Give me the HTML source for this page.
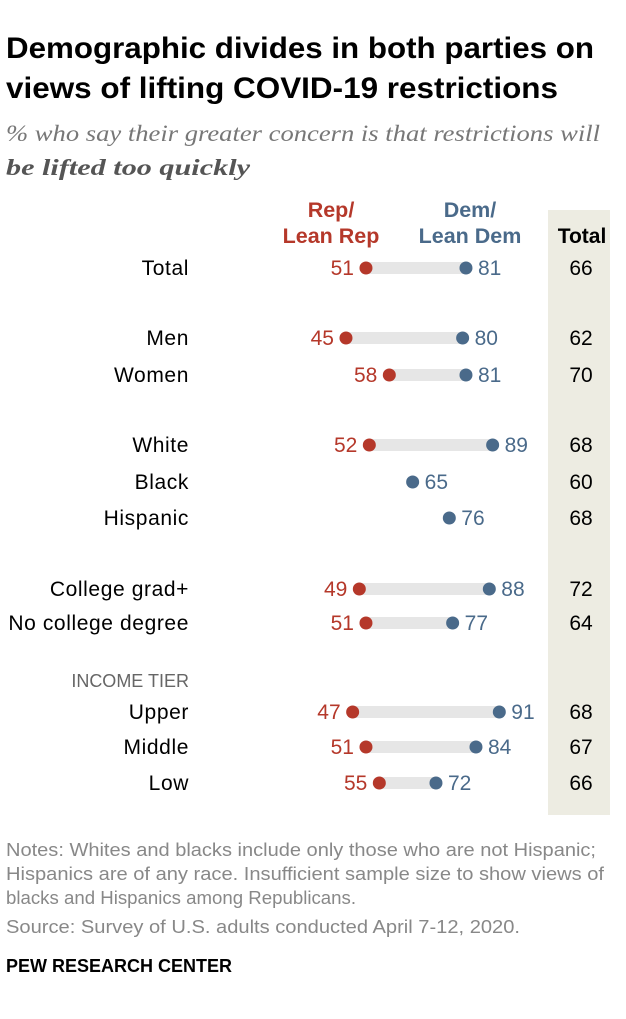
<!DOCTYPE html>
<html><head><meta charset="utf-8"><style>
body{margin:0;width:626px;height:1014px;background:#fff;font-family:"Liberation Sans",sans-serif;overflow:hidden}
svg text{font-family:"Liberation Sans",sans-serif}
</style></head><body>
<svg width="626" height="1014">
<text x="6" y="58" font-size="30" font-weight="bold" fill="#000" textLength="588" lengthAdjust="spacingAndGlyphs">Demographic divides in both parties on</text>
<text x="6" y="98" font-size="30" font-weight="bold" fill="#000" textLength="552" lengthAdjust="spacingAndGlyphs">views of lifting COVID-19 restrictions</text>
<text x="6" y="141" font-size="23" font-style="italic" fill="#777" textLength="594" lengthAdjust="spacingAndGlyphs" style="font-family:'Liberation Serif',serif">% who say their greater concern is that restrictions will</text>
<text x="6" y="175" font-size="23" font-style="italic" font-weight="bold" fill="#555" textLength="244" lengthAdjust="spacingAndGlyphs" style="font-family:'Liberation Serif',serif">be lifted too quickly</text>
<rect x="548" y="210" width="62" height="605" fill="#edece2"/>
<text x="331" y="217" font-size="21.5" font-weight="bold" fill="#b5382a" text-anchor="middle">Rep/</text>
<text x="331" y="243" font-size="21.5" font-weight="bold" fill="#b5382a" text-anchor="middle">Lean Rep</text>
<text x="470" y="217" font-size="21.5" font-weight="bold" fill="#4a6a8a" text-anchor="middle">Dem/</text>
<text x="470" y="243" font-size="21.5" font-weight="bold" fill="#4a6a8a" text-anchor="middle">Lean Dem</text>
<text x="582" y="243" font-size="21" font-weight="bold" fill="#000" text-anchor="middle">Total</text>
<text x="189" y="687" font-size="18" fill="#666" text-anchor="end">INCOME TIER</text>
<g id="rows"></g>
<text x="6" y="856" font-size="18" fill="#888" textLength="590" lengthAdjust="spacingAndGlyphs">Notes: Whites and blacks include only those who are not Hispanic;</text>
<text x="6" y="880" font-size="18" fill="#888" textLength="598" lengthAdjust="spacingAndGlyphs">Hispanics are of any race. Insufficient sample size to show views of</text>
<text x="6" y="904" font-size="18" fill="#888" textLength="350" lengthAdjust="spacingAndGlyphs">blacks and Hispanics among Republicans.</text>
<text x="6" y="933" font-size="18" fill="#888" textLength="514" lengthAdjust="spacingAndGlyphs">Source: Survey of U.S. adults conducted April 7-12, 2020.</text>
<text x="6" y="972" font-size="18" font-weight="bold" fill="#000" textLength="226" lengthAdjust="spacingAndGlyphs">PEW RESEARCH CENTER</text>
</svg>
<script>
const categories=["Total","Men","Women","White","Black","Hispanic","College grad+","No college degree","Upper","Middle","Low"];
const repValues=[51,45,58,52,null,null,49,51,47,51,55];
const demValues=[81,80,81,89,65,76,88,77,91,84,72];
const totalValues=[66,62,70,68,60,68,72,64,68,67,66];
const rowY=[268,338,375,445,482,518,589,623,712,747,783];
const NS="http://www.w3.org/2000/svg";
const g=document.getElementById('rows');
const xs=v=>196+v*3.333;
function mk(tag,attrs,txt){const e=document.createElementNS(NS,tag);for(const k in attrs)e.setAttribute(k,attrs[k]);if(txt!=null)e.textContent=txt;g.appendChild(e);return e;}
categories.forEach((c,i)=>{
 const y=rowY[i],r=repValues[i],d=demValues[i];
 let e=mk('text',{x:189,y:y+7,'font-size':21,'letter-spacing':0.6,'text-anchor':'end',fill:'#000'},c);
 
 
 if(r!=null){
  e=mk('rect',{x:xs(r),y:y-6,width:xs(d)-xs(r),height:12,fill:'#e6e6e6'});
  
  
  e=mk('circle',{cx:xs(r),cy:y,r:6.5,fill:'#b5382a'});
  
  
  e=mk('text',{x:xs(r)-12,y:y+7,'font-size':21,'text-anchor':'end',fill:'#b5382a'},r);
  
  
 }
 e=mk('circle',{cx:xs(d),cy:y,r:6.5,fill:'#4a6a8a'});
 
 
 e=mk('text',{x:xs(d)+12,y:y+7,'font-size':21,fill:'#4a6a8a'},d);
 
 
 e=mk('text',{x:581,y:y+7,'font-size':21,'text-anchor':'middle',fill:'#000'},totalValues[i]);
 
 
});
</script>
</body></html>
